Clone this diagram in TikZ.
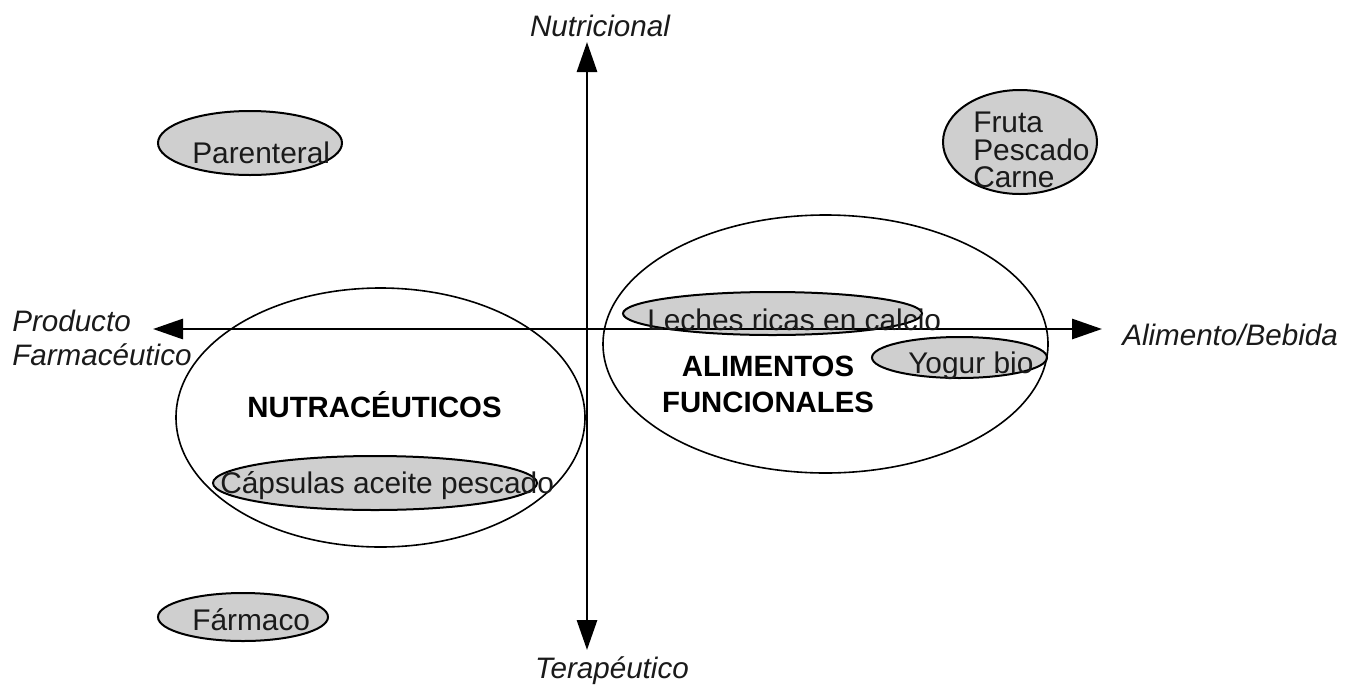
\documentclass[tikz,border=0pt]{standalone}
\usepackage{fontspec}
\setmainfont{Liberation Sans}
\usetikzlibrary{arrows.meta,shapes.geometric}
\definecolor{pillgray}{HTML}{CFCFCF}
\definecolor{txt}{HTML}{1A1A1A}
\tikzset{
  lbl/.style={inner sep=0pt, text=txt, font=\fontsize{22.4}{26}\selectfont},
  axlbl/.style={lbl, font=\fontsize{22.2}{26}\selectfont\itshape},
  biglbl/.style={inner sep=0pt, text=black, font=\fontsize{22}{27}\selectfont\bfseries},
  pill/.style={ellipse, draw=black, fill=pillgray, line width=1.5pt, inner sep=0pt},
  group/.style={ellipse, draw=black, line width=1.2pt, inner sep=0pt},
  axis/.style={line width=2.2pt, {Triangle[length=22.5pt,width=15pt]}-{Triangle[length=22.5pt,width=15pt]}}
}
\begin{document}
\begin{tikzpicture}[x=0.75pt,y=-0.75pt]
\path[use as bounding box, fill=white] (0,0) rectangle (1353,690);
% grey items
\node[pill, minimum width=138pt, minimum height=48pt] (parE) at (250,143) {};
\node[pill, minimum width=127.5pt, minimum height=36pt] (farE) at (243,617) {};
\node[pill, minimum width=115.5pt, minimum height=78pt] (fruE) at (1020,142) {};
\node[pill, minimum width=243pt, minimum height=40.5pt] (capE) at (375,483) {};
\node[pill, minimum width=224.25pt, minimum height=32.25pt] (lecE) at (772.5,313.5) {};
\node[pill, minimum width=131.25pt, minimum height=30.75pt] (yogE) at (959.5,357.5) {};
% group ellipses
\node[group, minimum width=306.75pt, minimum height=194.25pt] (nutraE) at (380.5,417.5) {};
\node[group, minimum width=333.75pt, minimum height=193.5pt] (alimE) at (825.5,344) {};
% axes
\coordinate (L) at (153,329);
\coordinate (R) at (1102,329);
\coordinate (T) at (587,42);
\coordinate (B) at (587,650);
\draw[axis] (L) -- (R);
\draw[axis] (T) -- (B);
% axis labels
\node[axlbl, anchor=base] (nutri) at (600,36) {Nutricional};
\node[axlbl, anchor=base] (tera) at (612,678) {Terapéutico};
\node[axlbl, anchor=base west] (alib) at (1122,345) {Alimento/Bebida};
\node[axlbl, anchor=north west, align=left, font=\fontsize{22.2}{25.5}\selectfont\itshape] (prodf) at (12,310) {Producto\\Farmacéutico};
% item labels
\node[lbl, anchor=base west] (parT) at (192,163) {Parenteral};
\node[lbl, anchor=base west] (farT) at (192,630) {Fármaco};
\node[lbl, anchor=base west] (fru1) at (973,132) {Fruta};
\node[lbl, anchor=base west] (fru2) at (973,160) {Pescado};
\node[lbl, anchor=base west] (fru3) at (973,187) {Carne};
\node[lbl, anchor=base west] (lecT) at (647,330) {Leches ricas en calcio};
\node[lbl, anchor=base west] (yogT) at (908,373) {Yogur bio};
\node[lbl, anchor=base west] (capT) at (220,493) {Cápsulas aceite pescado};
% group labels
\node[biglbl, anchor=base] (nutraT) at (374.5,417) {NUTRACÉUTICOS};
\node[biglbl, anchor=north, align=center] (alimT) at (768,356) {ALIMENTOS\\FUNCIONALES};
\end{tikzpicture}
\end{document}
